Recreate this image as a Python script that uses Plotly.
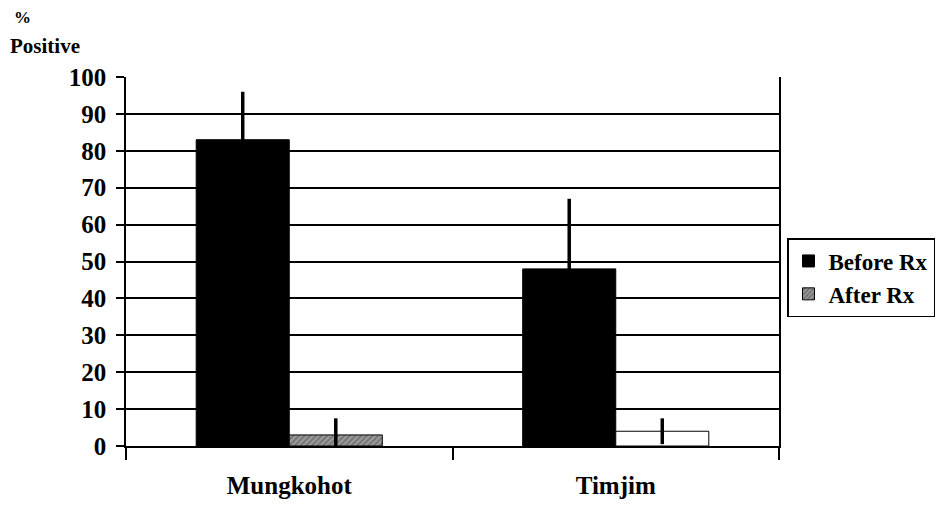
import plotly.graph_objects as go

categories = ["Mungkohot", "Timjim"]
before_vals = [83, 48]
before_err = [13, 19]
after_vals = [3, 4]
after_err = [4.5, 3.5]
y_ticks = [0, 10, 20, 30, 40, 50, 60, 70, 80, 90, 100]

FONT = "Times New Roman, Liberation Serif, Times, serif"

# page body has an 8px margin: figure is drawn offset by (8, 8)
W, H = 941, 499
L, T, R, B = 118, 69, 170, 61
PW, PH = W - L - R, H - T - B

fig = go.Figure()
fig.add_trace(go.Bar(
    name="<b>Before Rx</b>", x=categories, y=before_vals,
    marker=dict(color="black", line=dict(color="black", width=1)),
    error_y=dict(type="data", array=before_err, symmetric=True,
                 color="black", thickness=3.5, width=0),
))
fig.add_trace(go.Bar(
    name="<b>After Rx</b>", x=categories, y=after_vals,
    marker=dict(color=["#9a9a9a", "white"],
                line=dict(color="black", width=1),
                pattern=dict(shape=["/", ""], fgcolor="#333333", size=4, solidity=0.4)),
    error_y=dict(type="data", array=after_err, symmetric=True,
                 color="black", thickness=3.5, width=0),
))

fig.update_layout(
    width=W, height=H,
    margin=dict(l=L, r=R, t=T, b=B, autoexpand=False),
    paper_bgcolor="white", plot_bgcolor="white",
    barmode="group", bargap=0.43, bargroupgap=0,
    font=dict(family=FONT, color="black"),
    showlegend=True,
    legend=dict(x=(787 - 8 - L) / PW, y=(H - B - (238 - 8)) / PH, xanchor="left", yanchor="top",
                bordercolor="black", borderwidth=1.5,
                font=dict(size=23, family=FONT, color="black"),
                itemwidth=30, tracegroupgap=0, bgcolor="white"),
)

fig.add_annotation(text="<b>%</b>", x=(4 - L) / PW, y=(H - B - 9) / PH, xref="paper", yref="paper",
                   xanchor="left", yanchor="middle", showarrow=False,
                   font=dict(size=17, family=FONT))
fig.add_annotation(text="<b>Positive</b>", x=(0 - L) / PW, y=(H - B - 38) / PH, xref="paper", yref="paper",
                   xanchor="left", yanchor="middle", showarrow=False,
                   font=dict(size=21, family=FONT))

fig.update_yaxes(
    range=[0, 100], tickvals=y_ticks, ticktext=[f"<b>{v}</b>" for v in y_ticks],
    showgrid=True, gridcolor="black", gridwidth=1.5,
    showline=True, linecolor="black", linewidth=1.5, mirror=True,
    ticks="outside", ticklen=8, tickcolor="black", tickwidth=1.5,
    tickfont=dict(size=25, family=FONT, color="black"),
    ticklabelstandoff=5,
    zeroline=False, automargin=False,
)
fig.update_xaxes(
    tickvals=categories, ticktext=[f"<b>{c}</b>" for c in categories],
    showline=True, linecolor="black", linewidth=1.5,
    ticks="outside", tickson="boundaries", ticklen=12, tickcolor="black", tickwidth=1.5,
    tickfont=dict(size=25, family=FONT, color="black"),
    ticklabelstandoff=16, automargin=False,
)

fig.write_html("out.html")
